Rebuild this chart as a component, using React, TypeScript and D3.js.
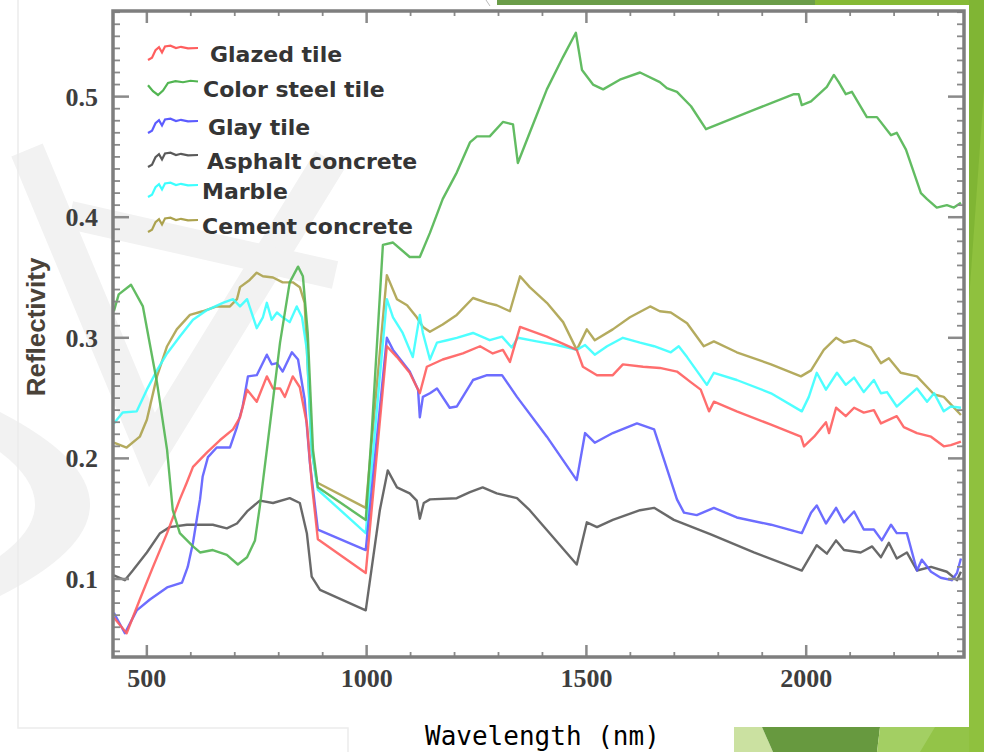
import React from 'react';
import * as d3 from 'd3';

const W = 984;
const H = 752;

// spectra: [wavelength nm, reflectivity]
const glazedTile: [number, number][] = [
  [425, 0.068], [454, 0.055], [484, 0.083], [514, 0.11], [546, 0.138], [575, 0.166], [591, 0.18], [605, 0.193],
  [637, 0.205], [666, 0.215], [696, 0.224], [712, 0.234], [728, 0.257], [750, 0.247], [773, 0.268], [787, 0.258],
  [803, 0.258], [814, 0.251], [832, 0.268], [848, 0.259], [864, 0.229], [875, 0.18], [889, 0.133], [998, 0.105],
  [1046, 0.293], [1069, 0.284], [1098, 0.271], [1121, 0.254], [1137, 0.276], [1173, 0.282], [1219, 0.287],
  [1258, 0.293], [1287, 0.287], [1310, 0.29], [1326, 0.28], [1349, 0.309], [1410, 0.301], [1478, 0.29],
  [1492, 0.276], [1524, 0.269], [1560, 0.269], [1583, 0.278], [1629, 0.276], [1667, 0.275], [1706, 0.272],
  [1738, 0.263], [1760, 0.257], [1779, 0.239], [1790, 0.247], [1842, 0.239], [1920, 0.228], [1988, 0.218],
  [1995, 0.21], [2018, 0.218], [2045, 0.23], [2052, 0.221], [2068, 0.242], [2090, 0.235], [2109, 0.242],
  [2131, 0.238], [2154, 0.24], [2170, 0.229], [2206, 0.235], [2222, 0.226], [2252, 0.221], [2284, 0.218],
  [2313, 0.21], [2329, 0.211], [2352, 0.214],
];

const colorSteelTile: [number, number][] = [
  [425, 0.322], [436, 0.336], [464, 0.344], [491, 0.326], [523, 0.263], [546, 0.207], [559, 0.157], [575, 0.138],
  [605, 0.127], [621, 0.122], [650, 0.124], [682, 0.12], [707, 0.112], [728, 0.118], [746, 0.132], [757, 0.16],
  [773, 0.207], [803, 0.296], [825, 0.346], [844, 0.359], [855, 0.351], [866, 0.304], [878, 0.207], [889, 0.176],
  [998, 0.149], [1012, 0.224], [1037, 0.377], [1060, 0.379], [1098, 0.367], [1121, 0.367], [1144, 0.387],
  [1173, 0.415], [1205, 0.437], [1235, 0.462], [1251, 0.467], [1280, 0.467], [1310, 0.479], [1333, 0.477],
  [1344, 0.445], [1371, 0.47], [1410, 0.506], [1447, 0.533], [1476, 0.553], [1490, 0.522], [1515, 0.51],
  [1538, 0.506], [1576, 0.514], [1622, 0.52], [1667, 0.512], [1683, 0.507], [1706, 0.504], [1738, 0.492],
  [1772, 0.473], [1806, 0.478], [1881, 0.489], [1972, 0.502], [1983, 0.502], [1990, 0.493], [2011, 0.496],
  [2047, 0.508], [2063, 0.518], [2074, 0.512], [2090, 0.502], [2104, 0.504], [2138, 0.483], [2161, 0.483],
  [2193, 0.468], [2206, 0.47], [2227, 0.456], [2261, 0.42], [2275, 0.415], [2297, 0.408], [2320, 0.41],
  [2336, 0.408], [2352, 0.412],
];

const glayTile: [number, number][] = [
  [425, 0.072], [450, 0.055], [477, 0.074], [507, 0.083], [546, 0.093], [580, 0.097], [593, 0.11], [605, 0.13],
  [616, 0.155], [621, 0.166], [627, 0.185], [639, 0.201], [659, 0.209], [689, 0.209], [705, 0.226], [718, 0.243],
  [730, 0.268], [750, 0.269], [773, 0.286], [784, 0.278], [796, 0.279], [809, 0.272], [830, 0.288], [844, 0.282],
  [859, 0.249], [871, 0.196], [889, 0.141], [998, 0.124], [1046, 0.3], [1060, 0.29], [1098, 0.272], [1117, 0.257],
  [1121, 0.234], [1128, 0.251], [1144, 0.254], [1160, 0.258], [1189, 0.242], [1205, 0.243], [1242, 0.265],
  [1274, 0.269], [1308, 0.269], [1342, 0.251], [1410, 0.218], [1478, 0.182], [1497, 0.221], [1519, 0.213],
  [1560, 0.221], [1615, 0.229], [1654, 0.224], [1706, 0.166], [1722, 0.155], [1751, 0.153], [1790, 0.159],
  [1842, 0.151], [1920, 0.145], [1990, 0.138], [2011, 0.155], [2024, 0.161], [2045, 0.146], [2068, 0.159],
  [2086, 0.147], [2109, 0.156], [2131, 0.141], [2154, 0.141], [2172, 0.132], [2193, 0.145], [2206, 0.138],
  [2229, 0.138], [2252, 0.107], [2263, 0.116], [2284, 0.106], [2306, 0.101], [2331, 0.099], [2343, 0.105],
  [2352, 0.117],
];

const asphaltConcrete: [number, number][] = [
  [425, 0.103], [450, 0.099], [468, 0.107], [500, 0.122], [530, 0.138], [552, 0.143], [591, 0.145], [650, 0.145],
  [682, 0.142], [705, 0.146], [728, 0.156], [757, 0.165], [787, 0.163], [825, 0.167], [848, 0.163], [864, 0.138],
  [875, 0.102], [894, 0.091], [998, 0.074], [1030, 0.157], [1048, 0.19], [1069, 0.176], [1098, 0.171],
  [1114, 0.165], [1121, 0.15], [1130, 0.163], [1144, 0.166], [1205, 0.167], [1235, 0.172], [1264, 0.176],
  [1296, 0.171], [1342, 0.167], [1371, 0.157], [1478, 0.112], [1501, 0.147], [1524, 0.143], [1560, 0.149],
  [1622, 0.157], [1654, 0.159], [1699, 0.149], [1783, 0.137], [1881, 0.122], [1990, 0.107], [2024, 0.128],
  [2047, 0.121], [2068, 0.132], [2086, 0.124], [2124, 0.122], [2150, 0.127], [2170, 0.118], [2188, 0.13],
  [2206, 0.117], [2229, 0.122], [2252, 0.107], [2284, 0.11], [2320, 0.106], [2343, 0.099], [2352, 0.106],
];

const marble: [number, number][] = [
  [425, 0.229], [445, 0.238], [477, 0.239], [500, 0.257], [523, 0.273], [546, 0.287], [575, 0.301], [605, 0.315],
  [637, 0.323], [673, 0.329], [696, 0.332], [712, 0.326], [728, 0.332], [750, 0.308], [764, 0.317], [773, 0.329],
  [784, 0.315], [796, 0.321], [809, 0.317], [825, 0.313], [841, 0.326], [853, 0.317], [864, 0.29], [875, 0.207],
  [889, 0.174], [998, 0.138], [1046, 0.332], [1060, 0.317], [1082, 0.304], [1105, 0.284], [1121, 0.319],
  [1128, 0.304], [1144, 0.282], [1160, 0.296], [1183, 0.298], [1205, 0.3], [1242, 0.304], [1280, 0.298],
  [1308, 0.301], [1330, 0.292], [1344, 0.3], [1387, 0.297], [1433, 0.294], [1478, 0.29], [1497, 0.294],
  [1519, 0.286], [1547, 0.293], [1583, 0.3], [1622, 0.296], [1654, 0.293], [1692, 0.288], [1710, 0.293],
  [1729, 0.284], [1774, 0.261], [1790, 0.271], [1842, 0.265], [1920, 0.254], [1990, 0.239], [2006, 0.251],
  [2024, 0.271], [2045, 0.257], [2070, 0.271], [2090, 0.261], [2109, 0.267], [2131, 0.255], [2154, 0.265],
  [2170, 0.254], [2184, 0.255], [2206, 0.243], [2252, 0.258], [2275, 0.247], [2291, 0.254], [2313, 0.239],
  [2329, 0.243], [2352, 0.242],
];

const cementConcrete: [number, number][] = [
  [425, 0.213], [454, 0.209], [484, 0.218], [500, 0.232], [523, 0.268], [546, 0.293], [568, 0.307], [598, 0.319],
  [627, 0.322], [659, 0.326], [689, 0.326], [705, 0.332], [712, 0.342], [734, 0.348], [750, 0.354], [764, 0.351],
  [787, 0.35], [809, 0.346], [832, 0.346], [848, 0.342], [859, 0.329], [875, 0.207], [887, 0.18], [998, 0.159],
  [1046, 0.352], [1069, 0.332], [1092, 0.327], [1114, 0.317], [1128, 0.309], [1144, 0.305], [1173, 0.311],
  [1205, 0.319], [1242, 0.333], [1274, 0.329], [1296, 0.327], [1326, 0.322], [1349, 0.351], [1371, 0.342],
  [1410, 0.329], [1447, 0.313], [1478, 0.29], [1501, 0.307], [1519, 0.298], [1560, 0.307], [1599, 0.317],
  [1645, 0.326], [1667, 0.322], [1692, 0.321], [1729, 0.312], [1767, 0.293], [1790, 0.297], [1842, 0.288],
  [1920, 0.278], [1988, 0.268], [2011, 0.273], [2040, 0.29], [2068, 0.3], [2086, 0.296], [2109, 0.298],
  [2147, 0.292], [2170, 0.279], [2188, 0.283], [2215, 0.271], [2252, 0.268], [2291, 0.253], [2313, 0.251],
  [2352, 0.236],
];

const seriesNames = ['Glazed tile', 'Color steel tile', 'Glay tile', 'Asphalt concrete', 'Marble', 'Cement concrete'];
const seriesColors = ['#ff5e5e', '#52b552', '#5c5cff', '#5a5a5a', '#3cffff', '#aca24e'];
const seriesData = [glazedTile, colorSteelTile, glayTile, asphaltConcrete, marble, cementConcrete];

const xMajorTicks = [500, 1000, 1500, 2000];
const xMinorTicks = d3.range(500, 2400, 100);
const yMajorTicks = [0.1, 0.2, 0.3, 0.4, 0.5];
const yMinorTicks = d3.range(4, 58).map(v => v / 100);

// tiny squiggles drawn in front of each legend entry
const legendGlyph: [number, number][] = [[0, 1], [0.08, 0.85], [0.15, 0.35], [0.22, 0.15], [0.28, 0.5], [0.34, 0.1], [0.45, 0.05], [0.56, 0.2], [0.66, 0.12], [0.8, 0.22], [1, 0.2]];
const legendGlyphSteel: [number, number][] = [[0, 0.35], [0.1, 0.75], [0.2, 1], [0.3, 0.7], [0.4, 0.2], [0.55, 0.08], [0.7, 0.15], [0.85, 0.05], [1, 0.1]];

export default function App() {
  const margin = { left: 113, right: 964, top: 11, bottom: 657 };
  const x = d3.scaleLinear().domain([423, 2359]).range([margin.left, margin.right]);
  const y = d3.scaleLinear().domain([0.0353, 0.571]).range([margin.bottom, margin.top]);

  const line = d3.line<[number, number]>().x(d => x(d[0])).y(d => y(d[1]));

  // legend layout
  const legendRows = [
    { tx: 210, base: 62 }, { tx: 203, base: 97 }, { tx: 208, base: 135 },
    { tx: 207, base: 169 }, { tx: 202, base: 199 }, { tx: 202, base: 234 },
  ];
  const gx = d3.scaleLinear().domain([0, 1]).range([148, 198]);

  const drawOrder = [5, 4, 3, 2, 0, 1];
  const tickColor = '#8a8a8a';
  const labelStyle = { fontFamily: '"Liberation Serif", serif', fontWeight: 700, fontSize: 26, fill: '#3e3e3e' } as const;

  return (
    <svg width={W} height={H} style={{ position: 'absolute', left: 0, top: 0, background: '#fff' }}>
      <defs>
        <filter id="soft" x="-5%" y="-5%" width="110%" height="110%">
          <feGaussianBlur stdDeviation="0.45" />
        </filter>
      </defs>
      {/* slide background bits */}
      <rect x={0} y={0} width={W} height={H} fill="#fff" />
      <g fill="none" stroke="#f2f2f2" strokeWidth={34}>
        <path d="M27,150 L152,450 L330,160" />
        <path d="M70,215 L335,275" strokeWidth={28} />
      </g>
      <path d="M0,412 Q180,505 0,596 L0,556 Q70,505 0,452 Z" fill="#f2f2f2" />
      <path d="M18,0 V728 H348 V752" fill="none" stroke="#ececec" strokeWidth={1.5} />
      <polygon points="497,0 815,0 815,5 497,5" fill="#6b9d49" />
      <polygon points="815,0 984,0 984,5 815,5" fill="#86ba36" />
      <line x1={486} y1={0} x2={490} y2={6} stroke="#bbb" strokeWidth={1} />
      <polygon points="969,0 984,0 984,752 969,752" fill="#8fc13e" />
      <polygon points="969,0 984,0 984,90 969,300" fill="#80b534" />
      <polygon points="734,727 762,727 773,752 734,752" fill="#cbe1a1" />
      <polygon points="762,727 880,727 877,752 773,752" fill="#67993f" />
      <polygon points="880,727 969,727 969,752 877,752" fill="#a3cf63" />
      <polygon points="935,727 969,727 969,752 920,752" fill="#93c448" />

      {/* series */}
      <g fill="none" strokeWidth={2.4} strokeLinejoin="round" strokeOpacity={0.9} filter="url(#soft)">
        {drawOrder.map(i => (
          <path key={seriesNames[i]} d={line(seriesData[i]) || ''} stroke={seriesColors[i]} />
        ))}
      </g>

      {/* frame and ticks */}
      <g stroke={tickColor} fill="none">
        {xMinorTicks.map(t => {
          const major = xMajorTicks.includes(t);
          return (
            <g key={'xt' + t} strokeWidth={major ? 2.5 : 1.8}>
              <line x1={x(t)} x2={x(t)} y1={margin.bottom} y2={margin.bottom - (major ? 12 : 5)} />
              <line x1={x(t)} x2={x(t)} y1={margin.top} y2={margin.top + (major ? 12 : 5)} />
            </g>
          );
        })}
        {yMinorTicks.map(t => {
          const major = yMajorTicks.some(m => Math.abs(m - t) < 1e-6);
          return (
            <g key={'yt' + t} strokeWidth={major ? 2.5 : 1.8}>
              <line x1={margin.left} x2={margin.left + (major ? 16 : 7)} y1={y(t)} y2={y(t)} />
              <line x1={margin.right} x2={margin.right - (major ? 16 : 7)} y1={y(t)} y2={y(t)} />
            </g>
          );
        })}
        <rect x={margin.left} y={margin.top} width={margin.right - margin.left} height={margin.bottom - margin.top}
          stroke="#7e7e7e" strokeWidth={3.5} />
      </g>

      {/* tick labels */}
      {yMajorTicks.map(t => (
        <text key={'yl' + t} x={98} y={y(t) + 9} textAnchor="end" style={labelStyle}>{t.toFixed(1)}</text>
      ))}
      {xMajorTicks.map(t => (
        <text key={'xl' + t} x={x(t)} y={687} textAnchor="middle" style={labelStyle}>{t}</text>
      ))}

      {/* axis titles */}
      <text transform="translate(45,327) rotate(-90)" textAnchor="middle"
        style={{ fontFamily: '"Liberation Sans", sans-serif', fontWeight: 700, fontSize: 26, fill: '#4a4238' }}>
        Reflectivity
      </text>
      <text x={425} y={745} style={{ fontFamily: '"DejaVu Sans Mono", monospace', fontSize: 26, fill: '#000' }}>
        Wavelength (nm)
      </text>

      {/* legend */}
      {seriesNames.map((name, i) => {
        const row = legendRows[i];
        const gy = d3.scaleLinear().domain([0, 1]).range([row.base - 17, row.base - 2]);
        const glyph = i === 1 ? legendGlyphSteel : legendGlyph;
        const gl = d3.line<[number, number]>().x(d => gx(d[0])).y(d => gy(d[1]));
        return (
          <g key={'lg' + name}>
            <path d={gl(glyph) || ''} fill="none" stroke={seriesColors[i]} strokeWidth={2.2} />
            <text x={row.tx} y={row.base}
              style={{ fontFamily: '"DejaVu Sans", sans-serif', fontWeight: 700, fontSize: 22, fill: '#353535' }}>
              {name}
            </text>
          </g>
        );
      })}
    </svg>
  );
}
